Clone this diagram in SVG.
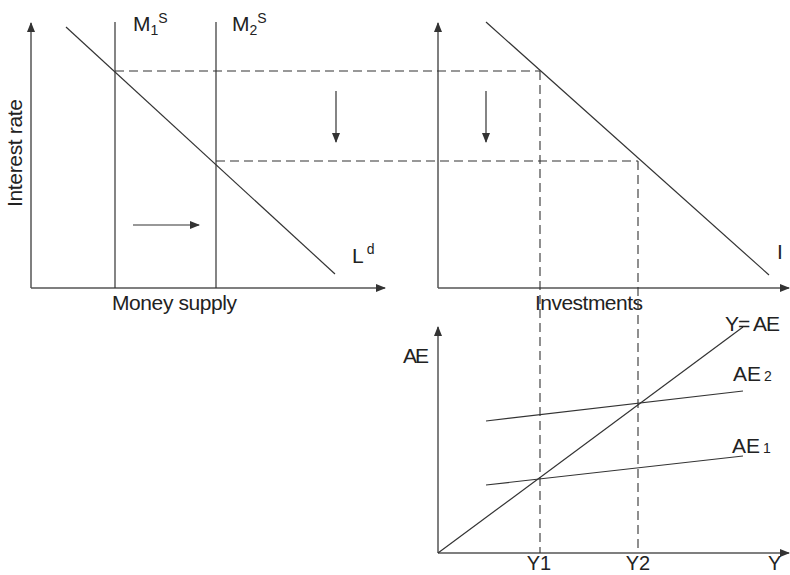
<svg xmlns="http://www.w3.org/2000/svg" width="790" height="575" viewBox="0 0 790 575">
<style>
  text { font-family: "Liberation Sans", Arial, sans-serif; fill: #222; font-size: 21px; }
  .axis { stroke: #555; stroke-width: 1.5; fill: none; }
  .curve { stroke: #333; stroke-width: 1.2; fill: none; }
  .dash { stroke: #333; stroke-width: 1.1; fill: none; stroke-dasharray: 9 5; }
  .sub { font-size: 14px; }
  .bottom { font-size: 20px; }
</style>
<defs>
  <marker id="ah" viewBox="0 0 10 8" refX="9" refY="4" markerWidth="10" markerHeight="8" markerUnits="userSpaceOnUse" orient="auto">
    <path d="M0,0 L10,4 L0,8 z" fill="#333"/>
  </marker>
</defs>
<rect width="790" height="575" fill="#fff"/>

<g id="money-market">
  <line class="axis" x1="31" y1="288" x2="31" y2="23" marker-end="url(#ah)"/>
  <line class="axis" x1="31" y1="288" x2="385" y2="288" marker-end="url(#ah)"/>
  <line class="curve" x1="115" y1="22" x2="115" y2="288"/>
  <line class="curve" x1="216" y1="22" x2="216" y2="288"/>
  <line class="curve" x1="66" y1="27" x2="335" y2="274"/>
  <line class="curve" x1="133" y1="225" x2="199" y2="225" marker-end="url(#ah)"/>
  <text x="22" y="153" text-anchor="middle" transform="rotate(-90 22 153)" textLength="108">Interest rate</text>
  <text x="112" y="310" textLength="125">Money supply</text>
  <text x="133" y="31">M<tspan class="sub" dy="4">1</tspan><tspan class="sub" dy="-12">S</tspan></text>
  <text x="232" y="31">M<tspan class="sub" dy="4">2</tspan><tspan class="sub" dy="-12">S</tspan></text>
  <text x="352" y="263">L<tspan class="sub" dx="3" dy="-9">d</tspan></text>
</g>

<g id="investment-market">
  <line class="axis" x1="438" y1="288" x2="438" y2="23" marker-end="url(#ah)"/>
  <line class="axis" x1="438" y1="288" x2="789" y2="288" marker-end="url(#ah)"/>
  <line class="curve" x1="486" y1="22" x2="769" y2="275"/>
  <text x="535" y="310" textLength="108">Investments</text>
  <text x="777" y="259">I</text>
</g>

<g id="expenditure">
  <line class="axis" x1="438" y1="553" x2="438" y2="327" marker-end="url(#ah)"/>
  <line class="axis" x1="438" y1="553" x2="789" y2="553" marker-end="url(#ah)"/>
  <line class="curve" x1="438" y1="553" x2="743" y2="327"/>
  <line class="curve" x1="486" y1="421" x2="743" y2="391"/>
  <line class="curve" x1="486" y1="485" x2="743" y2="456"/>
  <text x="403" y="363" textLength="26">AE</text>
  <text x="725" y="331" textLength="55">Y= AE</text>
  <text x="733" y="381">AE<tspan class="sub" dx="3">2</tspan></text>
  <text x="732" y="453">AE<tspan class="sub" dx="3">1</tspan></text>
  <text class="bottom" x="539" y="570" text-anchor="middle">Y1</text>
  <text class="bottom" x="638" y="570" text-anchor="middle">Y2</text>
  <text class="bottom" x="768" y="570">Y</text>
</g>

<g id="connectors">
  <line class="dash" x1="115" y1="71" x2="540" y2="71"/>
  <line class="dash" x1="216" y1="161" x2="638" y2="161"/>
  <line class="dash" x1="540" y1="71" x2="540" y2="553"/>
  <line class="dash" x1="638" y1="161" x2="638" y2="553"/>
  <line class="curve" x1="336" y1="91" x2="336" y2="142" marker-end="url(#ah)"/>
  <line class="curve" x1="486" y1="91" x2="486" y2="142" marker-end="url(#ah)"/>
</g>
</svg>
